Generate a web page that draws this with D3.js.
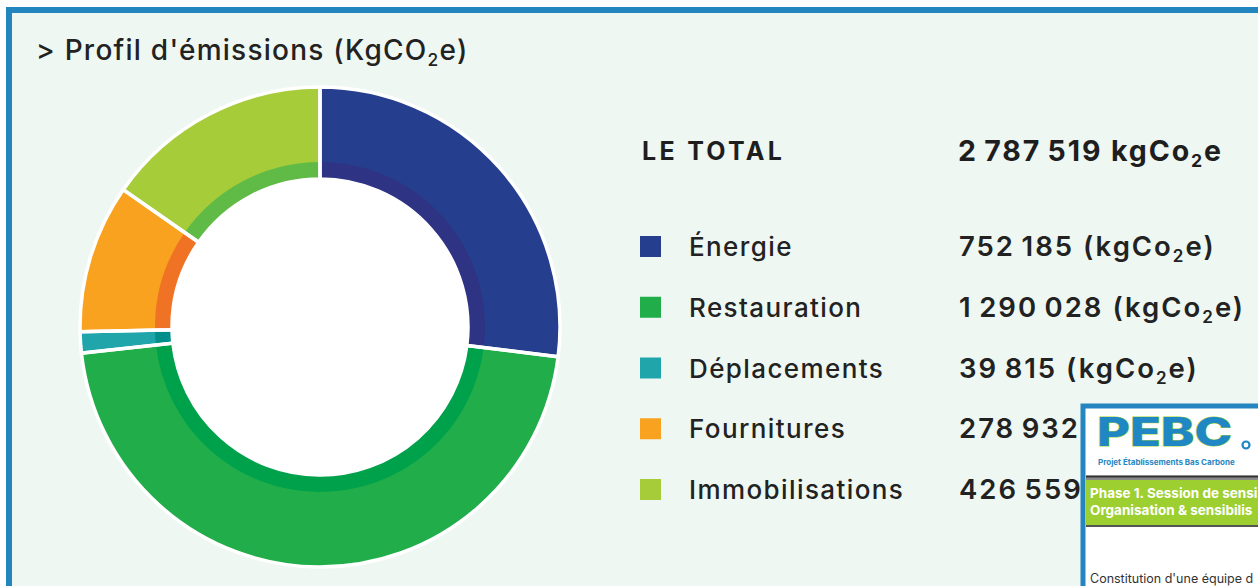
<!DOCTYPE html>
<html><head><meta charset="utf-8">
<script src="https://cdn.jsdelivr.net/npm/d3@7/dist/d3.min.js"></script>
<style>
html,body{margin:0;padding:0;background:#ffffff;}
svg{display:block;}
text{font-family:"Inter","Open Sans",sans-serif;}
</style></head>
<body>
<svg id="chart" width="1258" height="586"></svg>
<script>
const categories = ["Énergie","Restauration","Déplacements","Fournitures","Immobilisations"];
const values = [752185, 1290028, 39815, 278932, 426559];
const outerColors = ["#253f8e","#22ad4b","#1fa5aa","#f8a21f","#a6cd39"];
const innerColors = ["#2e3384","#00a14b","#008f8a","#f07225","#60bb46"];
const titleText = ["> Profil d'émissions (KgCO","2","e)"];
const totalLabel = "LE TOTAL";
const unitMain = ["kgCo","2","e"];

const W = 1258, H = 586;
const svg = d3.select("#chart");
const fr = d3.formatLocale({decimal:",", thousands:"\u202F", grouping:[3], currency:["","€"]});
const fmt = fr.format(",d");

svg.append("rect").attr("x",9).attr("y",10).attr("width",W+20).attr("height",H+20)
  .attr("fill","#eef7f1").attr("stroke","#2385be").attr("stroke-width",6);

function subText(sel, parts, size){
  sel.append("tspan").text(parts[0]);
  sel.append("tspan").attr("font-size",size*0.62).attr("dy",size*0.22).text(parts[1]);
  sel.append("tspan").attr("dy",-size*0.22).text(parts[2]);
}
const tsize = 28;
const title = svg.append("text").attr("x",36).attr("y",60).attr("font-size",tsize)
  .attr("font-weight",500).attr("fill","#222").attr("letter-spacing",1.25);
subText(title, titleText, tsize);

const cx = 320, cy = 327, R = 240, rBand = 165, rIn = 148;
const pie = d3.pie().sort(null).value(d=>d)(values);
const g = svg.append("g").attr("transform",`translate(${cx},${cy})`);
const arcOuter = d3.arc().innerRadius(rIn).outerRadius(R);
const arcInner = d3.arc().innerRadius(rIn).outerRadius(rBand);
g.selectAll("path.o").data(pie).join("path").attr("class","o")
  .attr("d",arcOuter).attr("fill",(d,i)=>outerColors[i]);
g.selectAll("path.i").data(pie).join("path").attr("class","i")
  .attr("d",arcInner).attr("fill",(d,i)=>innerColors[i]);
g.selectAll("path.s").data(pie).join("path").attr("class","s")
  .attr("d",arcOuter).attr("fill","none").attr("stroke","#ffffff").attr("stroke-width",3.5);
g.append("circle").attr("r",rIn).attr("fill","#ffffff");

const y = d3.scalePoint().domain(categories).range([246, 489]);
const lsize = 26;
svg.append("text").attr("x",642).attr("y",160).attr("font-size",25).attr("font-weight",700)
  .attr("fill","#1e1e1e").attr("letter-spacing",3.3).text(totalLabel);
const tot = svg.append("text").attr("x",958).attr("y",161).attr("font-size",28.5).attr("font-weight",700)
  .attr("fill","#1e1e1e").attr("letter-spacing",1.9);
subText(tot, [fmt(d3.sum(values))+" "+unitMain[0], unitMain[1], unitMain[2]], 28.5);

const rows = svg.append("g").selectAll("g").data(categories).join("g")
  .attr("transform",d=>`translate(0,${y(d)})`);
rows.append("rect").attr("x",640).attr("y",-10).attr("width",21).attr("height",21)
  .attr("fill",(d,i)=>outerColors[i]);
rows.append("text").attr("x",689).attr("y",10).attr("font-size",lsize).attr("font-weight",500)
  .attr("fill","#222").attr("letter-spacing",1.4).text(d=>d);
rows.append("text").attr("x",959).attr("y",10).attr("font-size",27.5).attr("font-weight",600)
  .attr("fill","#222").attr("letter-spacing",2).each(function(d,i){
    subText(d3.select(this), [fmt(values[i])+" (kgCo", "2", "e)"], 27.5);
  });

// overlapping card
const defs = svg.append("defs");
defs.append("clipPath").attr("id","cardclip").append("rect")
  .attr("x",1080).attr("y",403).attr("width",178).attr("height",183);
const card = svg.append("g").attr("clip-path","url(#cardclip)");
card.append("rect").attr("x",1083).attr("y",406).attr("width",200).attr("height",220)
  .attr("fill","#ffffff").attr("stroke","#2585c0").attr("stroke-width",5);
card.append("text").attr("x",1097).attr("y",446).attr("font-size",40).attr("font-weight",800)
  .attr("fill","#1f87c3").attr("stroke","#a6d43a").attr("stroke-width",1).attr("paint-order","stroke")
  .attr("textLength",135).attr("lengthAdjust","spacingAndGlyphs").text("PEBC");
card.append("circle").attr("cx",1246).attr("cy",445).attr("r",3.5).attr("fill","none")
  .attr("stroke","#1f87c3").attr("stroke-width",2.2);
card.append("text").attr("x",1098).attr("y",465).attr("font-size",8).attr("font-weight",700)
  .attr("fill","#2a86c0").text("Projet Établissements Bas Carbone");
card.append("rect").attr("x",1086).attr("y",475).attr("width",180).attr("height",5).attr("fill","#8a8a8a");
card.append("rect").attr("x",1086).attr("y",476).attr("width",180).attr("height",1.5).attr("fill","#333");
card.append("rect").attr("x",1086).attr("y",480).attr("width",180).attr("height",45).attr("fill","#9dcf30");
card.append("rect").attr("x",1086).attr("y",525).attr("width",180).attr("height",2).attr("fill","#555");
card.append("text").attr("x",1090).attr("y",498).attr("font-size",13.5).attr("font-weight",700)
  .attr("fill","#ffffff").text("Phase 1. Session de sensi");
card.append("text").attr("x",1090).attr("y",515).attr("font-size",13.5).attr("font-weight",700)
  .attr("fill","#ffffff").text("Organisation & sensibilis");
card.append("text").attr("x",1090).attr("y",583).attr("font-size",12.5).attr("font-weight",400)
  .attr("fill","#333").text("Constitution d'une équipe d");
</script>
</body></html>
